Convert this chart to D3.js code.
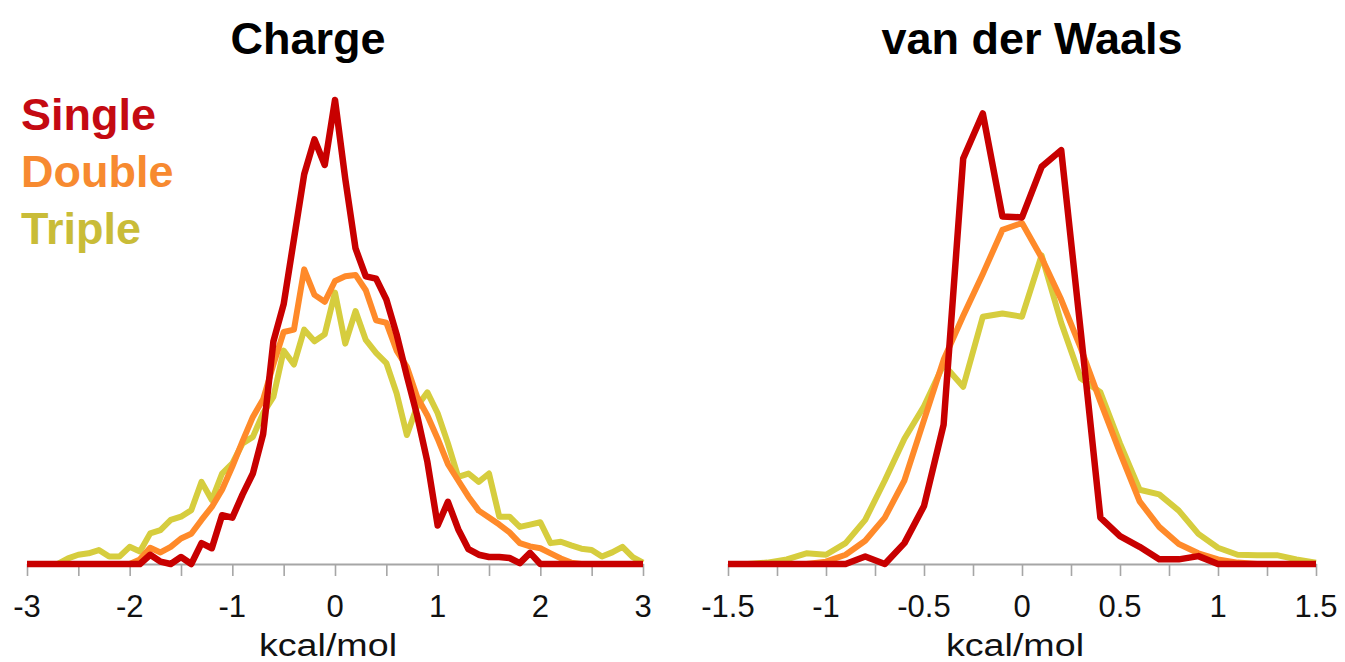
<!DOCTYPE html>
<html>
<head>
<meta charset="utf-8">
<script src="https://cdn.jsdelivr.net/npm/d3@7"></script>
<style>
  html, body { margin: 0; padding: 0; background: #fff; }
  svg { display: block; }
  text { font-family: "Liberation Sans", Arial, sans-serif; }
</style>
</head>
<body>
<svg id="chart" width="1345" height="662"></svg>
<script>
// ---------- data ----------
const chargeBins = [-3.0,-2.9,-2.8,-2.7,-2.6,-2.5,-2.4,-2.3,-2.2,-2.1,-2.0,-1.9,-1.8,-1.7,-1.6,-1.5,-1.4,-1.3,-1.2,-1.1,-1.0,-0.9,-0.8,-0.7,-0.6,-0.5,-0.4,-0.3,-0.2,-0.1,0.0,0.1,0.2,0.3,0.4,0.5,0.6,0.7,0.8,0.9,1.0,1.1,1.2,1.3,1.4,1.5,1.6,1.7,1.8,1.9,2.0,2.1,2.2,2.3,2.4,2.5,2.6,2.7,2.8,2.9,3.0];
const chargeSingle = [0,0,0,0,0,0,0,0,0,0,0, 0,2,0.5,0,1.5,0,4.5,3.4,10.5,10,15,19.5,28,48,56,70,84,91.5,86, 100,83,68,62,61.5,57,49.5,40.5,32,22,8.3,13.4,7.5,3.2,2,1.5,1.5,1.3,0.2,2.4,0, 0,0,0,0,0,0,0,0,0,0];
const chargeDouble = [0,0,0,0,0,0,0,0,0,0, 0,1,3.5,2.5,3.7,5.5,6.5,9.5,12.3,16,21,26.5,31.7,35.5,43,50,50.5,63.5,58,56.5,61,62,62.3,59,52.5,52,46,42.5,36,32,27,21.5,18,14.5,11.5,10,8.5,6.8,4.5,3.8,3.4,2.3,1.2,0.3, 0,0,0,0,0,0,0];
const chargeTriple = [0,0,0, 0,1.2,2,2.3,3,1.6,1.6,3.7,2.7,6.6,7.3,9.5,10.2,11.6,17.7,13.8,19.5,21.7,26,27.4,32.5,36,46,43,50.5,48,49.5,58.5,47.5,54.5,48.3,45.5,43.3,36.8,27.8,34,37,32.5,26,18.8,19.5,17.7,19.5,10.2,10.2,8,8.5,9,4.5,4.8,4,3.3,3,1.6,2.5,3.7,1.5,0.3];
const chargeTicks = [-3,-2.5,-2,-1.5,-1,-0.5,0,0.5,1,1.5,2,2.5,3];
const chargeLabels = [-3,-2,-1,0,1,2,3];

const vdwBins = [-1.5,-1.4,-1.3,-1.2,-1.1,-1.0,-0.9,-0.8,-0.7,-0.6,-0.5,-0.4,-0.3,-0.2,-0.1,0.0,0.1,0.2,0.3,0.4,0.5,0.6,0.7,0.8,0.9,1.0,1.1,1.2,1.3,1.4,1.5];
const vdwSingle = [0,0,0,0,0,0,0, 1.6,0,4.5,12.5,30,87.4,97.1,74.9,74.7,85.6,89.2,50,10,6,3.7,1,1,1.7, 0,0,0,0,0,0];
const vdwDouble = [0,0,0,0,0, 0.5,2,5,10,18,31,44,53.5,62.5,72,73.5,66,57,46.5,35,24,13.5,8,4.3,2.3,1,0.3, 0,0,0,0];
const vdwTriple = [0,0,0.3,1,2.3,2,4.5,9.5,18,27,34,43,38.2,53.3,54,53.3,66.5,52,40,37,26,16,15,11.5,6.5,3.5,2,1.9,1.9,1,0.3];
const vdwTicks = [-1.5,-1.25,-1,-0.75,-0.5,-0.25,0,0.25,0.5,0.75,1,1.25,1.5];
const vdwLabels = [-1.5,-1,-0.5,0,0.5,1,1.5];

const seriesNames = ["Single","Double","Triple"];
const seriesColors = ["#c80000","#ff8a2a","#d6cd3e"];
const legendColors = ["#c40a12","#f78a30","#c9bc38"];
const titles = ["Charge","van der Waals"];
const axisTitle = "kcal/mol";

// ---------- layout ----------
const svg = d3.select("#chart");
const y = d3.scaleLinear().domain([0, 100]).range([564, 100]);

const panels = [
  { title: titles[0], titleX: 308, bins: chargeBins, series: [chargeSingle, chargeDouble, chargeTriple],
    domain: [-3, 3], range: [27, 643], ticks: chargeTicks, labels: chargeLabels },
  { title: titles[1], titleX: 1032, bins: vdwBins, series: [vdwSingle, vdwDouble, vdwTriple],
    domain: [-1.5, 1.5], range: [728, 1316], ticks: vdwTicks, labels: vdwLabels }
];

panels.forEach(p => {
  const x = d3.scaleLinear().domain(p.domain).range(p.range);
  const g = svg.append("g");

  // axis
  const axis = d3.axisBottom(x).tickValues(p.ticks).tickSize(12).tickSizeOuter(0).tickFormat("");
  const ax = g.append("g").attr("transform", `translate(0,${y(0)})`).call(axis);
  ax.select(".domain").attr("stroke", "#a6a6a6").attr("stroke-width", 2);
  ax.selectAll(".tick line").attr("stroke", "#a6a6a6").attr("stroke-width", 1.6);

  // tick labels
  g.selectAll("text.tl").data(p.labels).enter().append("text")
    .attr("class", "tl")
    .attr("x", d => x(d)).attr("y", 617)
    .attr("text-anchor", "middle")
    .attr("font-size", 31).attr("fill", "#111")
    .text(d => String(d));

  // axis title
  g.append("text")
    .attr("x", (p.range[0] + p.range[1]) / 2 - 7).attr("y", 656)
    .attr("text-anchor", "middle").attr("font-size", 31).attr("fill", "#111")
    .attr("textLength", 138).attr("lengthAdjust", "spacingAndGlyphs")
    .text(axisTitle);

  // panel title
  g.append("text")
    .attr("x", p.titleX).attr("y", 54)
    .attr("text-anchor", "middle").attr("font-size", 45).attr("font-weight", "bold").attr("fill", "#000")
    .text(p.title);

  // lines (Triple first, Single on top)
  const line = d3.line().x((d, i) => x(p.bins[i])).y(d => y(d));
  [2, 1, 0].forEach(k => {
    g.append("path")
      .datum(p.series[k])
      .attr("d", line)
      .attr("fill", "none")
      .attr("stroke", seriesColors[k])
      .attr("stroke-width", k === 0 ? 6.5 : 6)
      .attr("stroke-linejoin", "round")
      .attr("stroke-linecap", "butt");
  });
});

// legend
svg.append("g").selectAll("text").data(seriesNames).enter().append("text")
  .attr("x", 21).attr("y", (d, i) => 130 + i * 57)
  .attr("font-size", 45).attr("font-weight", "bold")
  .attr("fill", (d, i) => legendColors[i])
  .text(d => d);
</script>
</body>
</html>
